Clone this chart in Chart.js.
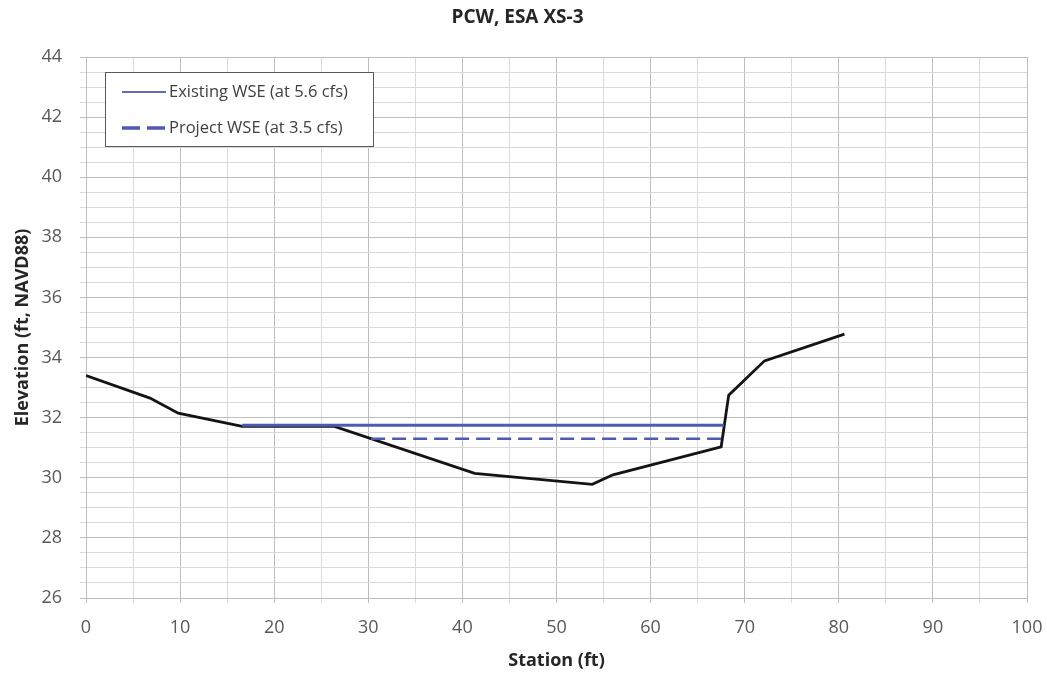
<!DOCTYPE html>
<html>
<head>
<meta charset="utf-8">
<title>PCW, ESA XS-3</title>
<script src="https://cdn.jsdelivr.net/npm/chart.js@4.4.1/dist/chart.umd.min.js"></script>
<style>
  html, body { margin: 0; padding: 0; background: #fff; }
  #wrap { width: 1047px; height: 673px; }
</style>
</head>
<body>
<div id="wrap"><canvas id="grafico" width="1047" height="673"></canvas></div>
<script>
// Terreno (seção transversal)
const groundStation = [0, 6.8, 9.8, 16.6, 26.4, 41.3, 53.8, 56.0, 67.5, 68.3, 72.1, 80.6];
const groundElev = [33.4, 32.65, 32.15, 31.71, 31.71, 30.15, 29.78, 30.1, 31.03, 32.75, 33.89, 34.78];

// Níveis d'água
const existingStation = [16.6, 67.8];
const existingElev = [31.75, 31.75];
const projectStation = [30.3, 67.5];
const projectElev = [31.3, 31.3];

const xTicks = [0, 10, 20, 30, 40, 50, 60, 70, 80, 90, 100];
const yTicks = [26, 28, 30, 32, 34, 36, 38, 40, 42, 44];

const labels = ["Existing WSE (at 5.6 cfs)", "Project WSE (at 3.5 cfs)"];

const AZUL = "#4f5bb0";
const FONTE = "'Open Sans', 'Noto Sans', sans-serif";

function pontos(xs, ys) {
  return xs.map((x, i) => ({ x, y: ys[i] }));
}

function ehMajor(v, passo) {
  return Math.abs(v / passo - Math.round(v / passo)) < 1e-6;
}

// Legenda com caixa, como no Excel
const legendaCaixa = {
  id: "legendaCaixa",
  afterDraw(chart) {
    const c = chart.ctx;
    const x0 = 105, y0 = 72, w = 268, h = 74;
    c.save();
    c.fillStyle = "#fff";
    c.fillRect(x0, y0, w, h);
    c.strokeStyle = "#595959";
    c.lineWidth = 1;
    c.strokeRect(x0 + 0.5, y0 + 0.5, w, h);

    c.font = "16.5px " + FONTE;
    c.fillStyle = "#404040";
    c.textBaseline = "middle";

    c.strokeStyle = "#2f3e9e";
    c.lineWidth = 1.5;
    c.beginPath();
    c.moveTo(122, 92);
    c.lineTo(166, 92);
    c.stroke();
    c.fillText(chart.data.datasets[0].label, 169, 92);

    c.strokeStyle = AZUL;
    c.lineWidth = 3.5;
    c.setLineDash([18, 7]);
    c.beginPath();
    c.moveTo(122, 128);
    c.lineTo(166, 128);
    c.stroke();
    c.setLineDash([]);
    c.fillText(chart.data.datasets[1].label, 169, 128);
    c.restore();
  }
};

const ctx = document.getElementById("grafico").getContext("2d");

new Chart(ctx, {
  type: "scatter",
  data: {
    datasets: [
      {
        label: labels[0],
        data: pontos(existingStation, existingElev),
        showLine: true,
        borderColor: AZUL,
        borderWidth: 3,
        pointRadius: 0,
        order: 1
      },
      {
        label: labels[1],
        data: pontos(projectStation, projectElev),
        showLine: true,
        borderColor: AZUL,
        borderWidth: 2.5,
        borderDash: [14, 7],
        pointRadius: 0,
        order: 2
      },
      {
        label: "Ground",
        data: pontos(groundStation, groundElev),
        showLine: true,
        borderColor: "#141414",
        borderWidth: 2.8,
        pointRadius: 0,
        order: 3
      }
    ]
  },
  options: {
    responsive: false,
    animation: false,
    layout: { padding: { left: 8, right: 20, top: 0, bottom: 0 } },
    plugins: {
      legend: { display: false },
      tooltip: { enabled: false },
      title: {
        display: true,
        text: "PCW, ESA XS-3",
        color: "#262626",
        font: { family: FONTE, size: 19, weight: "bold" },
        padding: { top: 6.6, bottom: 27.6 }
      }
    },
    scales: {
      x: {
        type: "linear",
        min: xTicks[0],
        max: xTicks[xTicks.length - 1],
        afterBuildTicks: s => {
          const t = [];
          for (let v = s.min; v <= s.max + 1e-9; v += 5) t.push({ value: v });
          s.ticks = t;
        },
        afterFit: s => {
          s.height = 75;
          s.paddingLeft = 0;
          s.paddingRight = 0;
        },
        ticks: {
          color: "#595959",
          font: { family: FONTE, size: 18 },
          padding: 14,
          maxRotation: 0,
          autoSkip: false,
          callback: v => (xTicks.includes(v) ? String(v) : "")
        },
        grid: {
          color: c => (ehMajor(c.tick.value, 10) ? "#bdbdbd" : "#dadada"),
          tickLength: 5,
          lineWidth: 1
        },
        border: { color: "#bdbdbd" },
        title: {
          display: true,
          text: "Station (ft)",
          color: "#262626",
          font: { family: FONTE, size: 18, weight: "bold" },
          padding: { top: 0, bottom: 1.2 }
        }
      },
      y: {
        type: "linear",
        min: yTicks[0],
        max: yTicks[yTicks.length - 1],
        afterBuildTicks: s => {
          const t = [];
          for (let v = s.min; v <= s.max + 1e-9; v += 0.5) t.push({ value: v });
          s.ticks = t;
        },
        afterFit: s => { s.width = 78; },
        ticks: {
          color: "#595959",
          font: { family: FONTE, size: 18 },
          padding: 18,
          autoSkip: false,
          callback: v => (yTicks.includes(v) ? String(v) : "")
        },
        grid: {
          color: c => (ehMajor(c.tick.value, 2) ? "#bdbdbd" : "#dadada"),
          tickLength: 6,
          lineWidth: 1
        },
        border: { color: "#bdbdbd" },
        title: {
          display: true,
          text: "Elevation (ft, NAVD88)",
          color: "#262626",
          font: { family: FONTE, size: 18, weight: "bold" },
          padding: { top: 4, bottom: 0 }
        }
      }
    }
  },
  plugins: [legendaCaixa]
});
</script>
</body>
</html>
